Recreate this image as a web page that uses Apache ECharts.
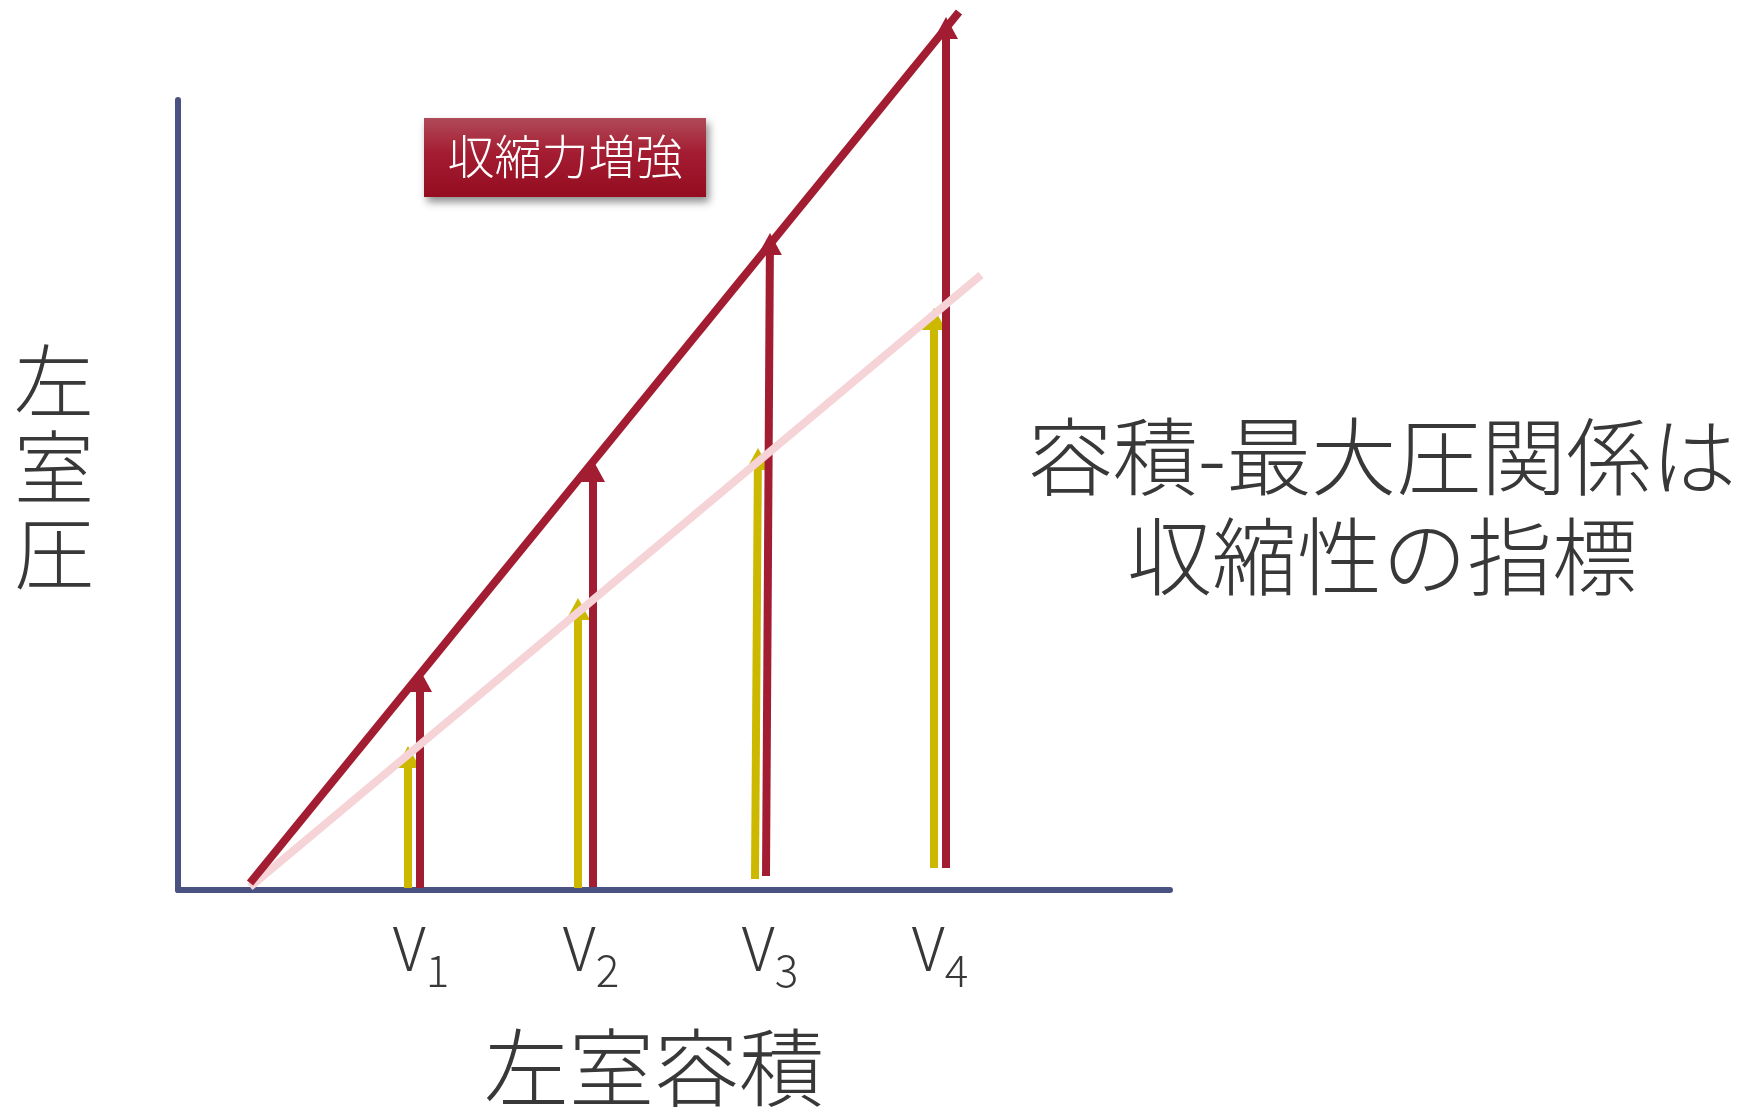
<!DOCTYPE html>
<html style="height: 100%">
<head>
 <meta charset="utf-8">
 <title>容積-最大圧関係</title>
</head>
<body style="height: 100%; margin: 0; background: #fff">
 <div id="container" style="width: 1738px; height: 1111px"></div>
 <script type="text/javascript" src="https://cdn.jsdelivr.net/npm/echarts@6/dist/echarts.min.js"></script>
 <script type="text/javascript">
    // values (1 unit is about 1 px of the plot area)
    var tickLabels = ['V1', 'V2', 'V3', 'V4'];
    var tickPos = [243, 413, 592, 762];

    // arrows: [x bottom, y bottom, x top, y top]
    var strongArrows = [
        [242, 2, 242, 220],
        [415, 3, 415, 430],
        [588, 14, 592, 657],
        [768, 22, 768, 873]
    ];
    var baseArrows = [
        [230, 2, 230, 144],
        [400, 2, 400, 292],
        [577, 11, 580, 442],
        [756, 22, 756, 582]
    ];

    // end-systolic pressure-volume lines
    var strongLine = [[72, 7], [781, 878]];
    var baseLine = [[72, 3], [803, 615]];

    var font = "'Noto Sans CJK JP', 'Noto Sans', sans-serif";
    var textColor = '#383838';

    function arrow(color) {
        return function (params, api) {
            var p0 = api.coord([api.value(0), api.value(1)]);
            var p1 = api.coord([api.value(2), api.value(3)]);
            var dx = p1[0] - p0[0], dy = p1[1] - p0[1];
            var len = Math.sqrt(dx * dx + dy * dy);
            var ux = dx / len, uy = dy / len;
            var hl = 22, hw = 12;
            var bx = p1[0] - ux * hl, by = p1[1] - uy * hl;
            return {
                type: 'group',
                children: [{
                    type: 'line',
                    shape: { x1: p0[0], y1: p0[1], x2: bx + ux * 2, y2: by + uy * 2 },
                    style: { stroke: color, lineWidth: 8 }
                }, {
                    type: 'polygon',
                    shape: { points: [[p1[0], p1[1]], [bx - uy * hw, by + ux * hw], [bx + uy * hw, by - ux * hw]] },
                    style: { fill: color }
                }]
            };
        };
    }

    var dom = document.getElementById('container');
    var myChart = echarts.init(dom);
    myChart.setOption({
        backgroundColor: '#ffffff',
        animation: false,
        title: [{
            text: '容積-最大圧関係は\n収縮性の指標',
            left: 1382,
            top: 407,
            padding: 0,
            textAlign: 'center',
            textStyle: {
                fontFamily: font,
                fontSize: 85,
                fontWeight: 300,
                lineHeight: 100,
                color: textColor
            }
        }, {
            // y axis title, characters stacked
            text: '左\n室\n圧',
            left: 54,
            top: 338,
            padding: 0,
            textAlign: 'center',
            textStyle: {
                fontFamily: font,
                fontSize: 80,
                fontWeight: 300,
                lineHeight: 86,
                color: textColor
            }
        }],
        grid: { left: 178, top: 100, width: 992, height: 790, outerBoundsMode: 'none', containLabel: false },
        xAxis: {
            type: 'value',
            min: 0,
            max: 992,
            name: '左室容積',
            nameLocation: 'middle',
            nameGap: 135,
            nameTextStyle: {
                fontFamily: font,
                fontSize: 85,
                fontWeight: 300,
                lineHeight: 86,
                color: textColor,
                padding: [0, 40, 0, 0]
            },
            axisLine: { show: true, lineStyle: { color: '#4a5282', width: 6 } },
            axisTick: { show: false },
            splitLine: { show: false },
            axisLabel: {
                customValues: tickPos,
                margin: 28,
                formatter: function (v) {
                    var s = tickLabels[tickPos.indexOf(v)] || '';
                    return '{v|' + s.charAt(0) + '}{s|' + s.slice(1) + '}';
                },
                rich: {
                    v: { fontFamily: font, fontSize: 60, fontWeight: 300, color: textColor, padding: [0, 0, 14, 0] },
                    s: { fontFamily: font, fontSize: 44, fontWeight: 300, color: textColor, verticalAlign: 'bottom' }
                }
            }
        },
        yAxis: {
            type: 'value',
            min: 0,
            max: 790,
            axisLine: { show: true, lineStyle: { color: '#4a5282', width: 6 } },
            axisTick: { show: false },
            axisLabel: { show: false },
            splitLine: { show: false }
        },
        graphic: [{
            type: 'rect',
            z: 10,
            shape: { x: 424, y: 118, width: 282, height: 79 },
            style: {
                fill: {
                    type: 'linear', x: 0, y: 0, x2: 0, y2: 1,
                    colorStops: [
                        { offset: 0, color: '#b04a58' },
                        { offset: 0.45, color: '#a41c31' },
                        { offset: 1, color: '#940c20' }
                    ]
                },
                shadowBlur: 8,
                shadowOffsetX: 3,
                shadowOffsetY: 5,
                shadowColor: 'rgba(0,0,0,0.45)'
            }
        }, {
            type: 'text',
            z: 11,
            x: 565,
            y: 156,
            style: {
                text: '収縮力増強',
                fill: '#ffffff',
                font: '300 47px ' + font,
                align: 'center',
                verticalAlign: 'middle',
                textAlign: 'center',
                textVerticalAlign: 'middle'
            }
        }],
        series: [{
            type: 'line',
            data: baseLine,
            clip: false,
            symbol: 'none',
            lineStyle: { color: '#f6d3d7', width: 8 }
        }, {
            type: 'line',
            data: strongLine,
            clip: false,
            symbol: 'none',
            lineStyle: { color: '#a21c32', width: 8 }
        }, {
            type: 'custom',
            data: baseArrows,
            clip: false,
            renderItem: arrow('#cdb800')
        }, {
            type: 'custom',
            data: strongArrows,
            clip: false,
            renderItem: arrow('#a21c32')
        }]
    });
</script>
</body>
</html>
